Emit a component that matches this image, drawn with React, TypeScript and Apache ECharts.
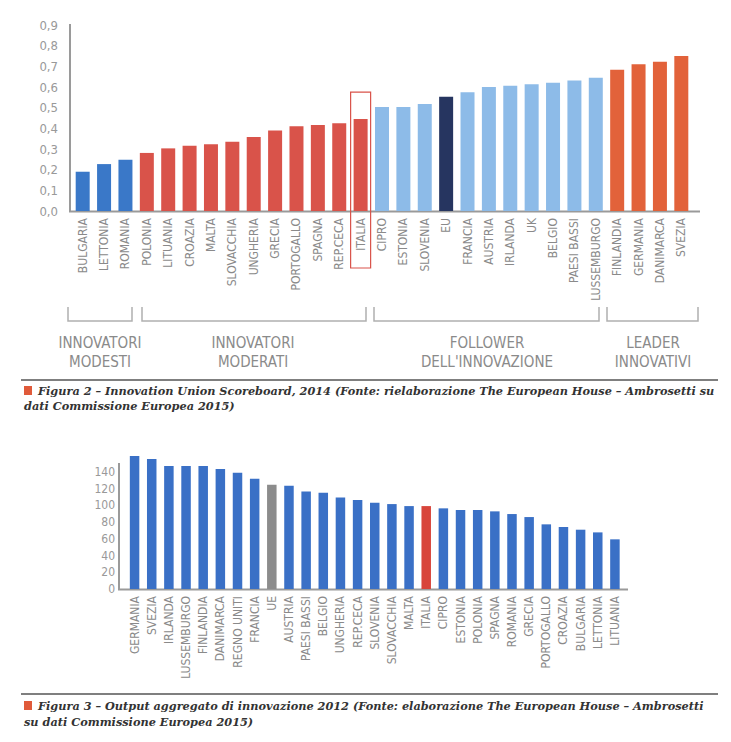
import React, { useEffect, useRef } from "react";
import * as echarts from "echarts";

// ---- Figure 2 data ----
const cats1 = [
  "BULGARIA", "LETTONIA", "ROMANIA",
  "POLONIA", "LITUANIA", "CROAZIA", "MALTA", "SLOVACCHIA", "UNGHERIA", "GRECIA", "PORTOGALLO", "SPAGNA", "REP.CECA", "ITALIA",
  "CIPRO", "ESTONIA", "SLOVENIA", "EU", "FRANCIA", "AUSTRIA", "IRLANDA", "UK", "BELGIO", "PAESI BASSI", "LUSSEMBURGO",
  "FINLANDIA", "GERMANIA", "DANIMARCA", "SVEZIA",
];
const vals1 = [
  0.190, 0.227, 0.248,
  0.281, 0.303, 0.316, 0.323, 0.335, 0.358, 0.390, 0.410, 0.416, 0.424, 0.445,
  0.503, 0.503, 0.518, 0.553, 0.574, 0.600, 0.606, 0.613, 0.621, 0.632, 0.645,
  0.684, 0.710, 0.722, 0.750,
];
const groupSizes1 = [3, 11, 11, 4];
const groupColors1 = ["#3a78c8", "#d9534a", "#8dbbe8", "#e2623a"];
const groupLabels1 = ["INNOVATORI\nMODESTI", "INNOVATORI\nMODERATI", "FOLLOWER\nDELL'INNOVAZIONE", "LEADER\nINNOVATIVI"];
const euName1 = "EU";
const highlight1 = "ITALIA";
const yTicks1 = [0, 0.9, 0.1]; // min, max, step

// ---- Figure 3 data ----
const cats2 = [
  "GERMANIA", "SVEZIA", "IRLANDA", "LUSSEMBURGO", "FINLANDIA", "DANIMARCA", "REGNO UNITI", "FRANCIA", "UE", "AUSTRIA",
  "PAESI BASSI", "BELGIO", "UNGHERIA", "REP.CECA", "SLOVENIA", "SLOVACCHIA", "MALTA", "ITALIA", "CIPRO", "ESTONIA",
  "POLONIA", "SPAGNA", "ROMANIA", "GRECIA", "PORTOGALLO", "CROAZIA", "BULGARIA", "LETTONIA", "LITUANIA",
];
const vals2 = [
  158.7, 155.1, 146.8, 146.8, 146.8, 143.2, 138.8, 131.7, 124.5, 123.3,
  116.5, 115.0, 109.4, 106.2, 103.0, 101.4, 99.0, 99.0, 96.3, 94.3,
  94.3, 92.7, 89.5, 85.9, 77.2, 74.0, 70.8, 67.6, 59.3,
];
const yTicks2 = [0, 160, 20];

const captions = [
  "Figura 2 – Innovation Union Scoreboard, 2014 (Fonte: rielaborazione The European House – Ambrosetti su",
  "dati Commissione Europea 2015)",
  "Figura 3 – Output aggregato di innovazione 2012 (Fonte: elaborazione The European House – Ambrosetti",
  "su dati Commissione Europea 2015)",
];

const NARROW = "'Liberation Sans Narrow', 'DejaVu Sans Condensed', 'Roboto', sans-serif";
const SERIF = "'DejaVu Serif', 'Liberation Serif', serif";

export default function App() {
  const ref = useRef<HTMLDivElement>(null);
  useEffect(() => {
    if (!ref.current) return;
    const chart = echarts.init(ref.current, null, { renderer: "svg" });

    const colors1: string[] = [];
    groupSizes1.forEach((n, gi) => {
      for (let i = 0; i < n; i++) colors1.push(groupColors1[gi]);
    });
    const data1 = vals1.map((v, i) => ({
      value: v,
      itemStyle: { color: cats1[i] === euName1 ? "#263560" : colors1[i] },
    }));
    const data2 = vals2.map((v, i) => ({
      value: v,
      itemStyle: { color: cats2[i] === "UE" ? "#8c8c8c" : cats2[i] === "ITALIA" ? "#d8453b" : "#3a70c6" },
    }));

    const G1 = { left: 72, top: 25, width: 620, height: 186 };
    const G2 = { left: 126, top: 455, width: 497.5, height: 134 };

    const bracketX = [[68, 132], [142, 366], [374, 599], [607, 698]];
    const labelX = [100, 253, 487, 653];

    const graphics: any[] = [
      { type: "line", shape: { x1: 70, y1: 24, x2: 70, y2: 212 }, style: { stroke: "#9a9a9a", lineWidth: 2 } },
      { type: "line", shape: { x1: 69, y1: 211.5, x2: 700, y2: 211.5 }, style: { stroke: "#9a9a9a", lineWidth: 2 } },
      { type: "line", shape: { x1: 119, y1: 463, x2: 119, y2: 590 }, style: { stroke: "#9a9a9a", lineWidth: 2 } },
      { type: "line", shape: { x1: 118, y1: 589.5, x2: 628, y2: 589.5 }, style: { stroke: "#9a9a9a", lineWidth: 2 } },
      { type: "line", shape: { x1: 21, y1: 380, x2: 718, y2: 380 }, style: { stroke: "#555", lineWidth: 1.6 } },
      { type: "line", shape: { x1: 21, y1: 694, x2: 718, y2: 694 }, style: { stroke: "#555", lineWidth: 1.6 } },
      { type: "rect", shape: { x: 24, y: 386, width: 8, height: 9 }, style: { fill: "#e05a3a" } },
      { type: "rect", shape: { x: 24, y: 701, width: 8, height: 9 }, style: { fill: "#e05a3a" } },
    ];
    bracketX.forEach(([a, b], i) => {
      graphics.push({
        type: "polyline",
        shape: { points: [[a, 307], [a, 321], [b, 321], [b, 307]] },
        style: { stroke: "#b0b0b0", lineWidth: 1.5, fill: null },
      });
      graphics.push({
        type: "text",
        x: labelX[i],
        y: 352,
        style: {
          text: groupLabels1[i],
          fill: "#8a8a8a",
          font: `15px ${NARROW}`,
          align: "center",
          verticalAlign: "middle",
          lineHeight: 19,
        },
      });
    });
    const capStyle = (t: string) => ({
      text: t,
      fill: "#333",
      font: `italic 600 11.3px ${SERIF}`,
      verticalAlign: "middle",
    });
    graphics.push({ type: "text", x: 38, y: 391, style: capStyle(captions[0]) });
    graphics.push({ type: "text", x: 24, y: 406, style: capStyle(captions[1]) });
    graphics.push({ type: "text", x: 38, y: 706, style: capStyle(captions[2]) });
    graphics.push({ type: "text", x: 24, y: 722, style: capStyle(captions[3]) });

    const catAxis = (gi: number, data: string[]) => ({
      type: "category",
      gridIndex: gi,
      data,
      axisLine: { show: false },
      axisTick: { show: false },
      axisLabel: {
        interval: 0,
        rotate: 90,
        margin: 7,
        color: "#8a8a8a",
        fontSize: 12,
        fontFamily: NARROW,
      },
    });

    chart.setOption({
      animation: false,
      grid: [
        { ...G1, containLabel: false },
        { ...G2, containLabel: false },
      ],
      xAxis: [catAxis(0, cats1), catAxis(1, cats2)],
      yAxis: [
        {
          type: "value",
          gridIndex: 0,
          min: yTicks1[0],
          max: yTicks1[1],
          interval: yTicks1[2],
          axisLine: { show: false },
          axisTick: { show: false },
          splitLine: { show: false },
          axisLabel: {
            margin: 14,
            color: "#999",
            fontSize: 13,
            fontFamily: NARROW,
            formatter: (v: number) => v.toFixed(1).replace(".", ","),
          },
        },
        {
          type: "value",
          gridIndex: 1,
          min: yTicks2[0],
          max: yTicks2[1],
          interval: yTicks2[2],
          axisLine: { show: false },
          axisTick: { show: false },
          splitLine: { show: false },
          axisLabel: {
            margin: 11,
            color: "#999",
            fontSize: 12,
            fontFamily: NARROW,
            formatter: (v: number) => (v >= 160 ? "" : String(v)),
          },
        },
      ],
      series: [
        { type: "bar", xAxisIndex: 0, yAxisIndex: 0, data: data1, barWidth: 14 },
        { type: "bar", xAxisIndex: 1, yAxisIndex: 1, data: data2, barWidth: 9.5 },
      ],
      graphic: graphics,
    });

    const idx = cats1.indexOf(highlight1);
    const px = chart.convertToPixel({ xAxisIndex: 0 }, idx) as unknown as number;
    const top = chart.convertToPixel({ yAxisIndex: 0 }, 0.575) as unknown as number;
    chart.setOption({
      graphic: [
        ...graphics,
        {
          type: "rect",
          shape: { x: px - 10, y: top, width: 20, height: 268 - top },
          style: { fill: null, stroke: "#d9534a", lineWidth: 1.2 },
          z: 10,
        },
      ],
    });

    return () => chart.dispose();
  }, []);
  return <div ref={ref} style={{ position: "absolute", left: 0, top: 0, width: 731, height: 742 }} />;
}
